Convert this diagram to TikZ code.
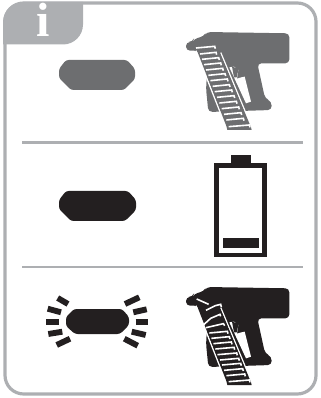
\documentclass[tikz,border=0pt]{standalone}
\usepackage{fontspec}
\setmainfont{Liberation Serif}
\definecolor{fr}{HTML}{ADAFB2}
\definecolor{gr}{HTML}{6D6E70}
\definecolor{bk}{HTML}{231F20}
\tikzset{
  pill/.style={rounded corners=2pt},
  ray/.style={line width=4.4pt,bk},
  divider/.style={line width=1.9pt,fr},
}
% #1 colour, #2 rung drawing
\newcommand{\gunshape}[2]{%
  \fill[#1,rounded corners=3pt] (48,66) -- (68,66) -- (72,56) -- (100,50) -- (110,36) -- (358,40) -- (358,130) -- (262,130) -- (285,235) -- (305,245) -- (305,270) -- (115,276) -- (108,205) -- (112,150) -- (85,92) -- (48,92) -- cycle;
  \fill[white] (178,142) -- (192,140) -- (205,150) -- (201,176) -- (214,172) -- (224,170) -- (243,245) -- (228,250) -- cycle;
  \fill[#1] (186,140) -- (206,146) -- (200,172) -- (192,172) -- cycle;
  \draw[white,line width=1.1pt] (78,92) -- (167,318);
  \draw[white,line width=1.1pt] (152,98) -- (245,322);
  \fill[#1] (74,78) -- (142,72) -- (150,98) -- (243,322) -- (245,330) -- (172,330) -- (169,318) -- (81,92) -- cycle;
  #2
}
\newcommand{\rung}[3]{% y, left x, right x
  \draw[white,line width=1.2pt,line cap=butt] (#2+6,#1+2) -- (#3,#1-3) -- (#3+2,#1+4);
}
\begin{document}
\begin{tikzpicture}[x=0.75pt,y=-0.75pt]
\useasboundingbox (0,0) rectangle (320,398);
% frame
\draw[fr,line width=2.4pt,rounded corners=14pt] (5,3) rectangle (316,394);
% tab
\fill[fr] (3,44.5) [rounded corners=15pt] -- (3,2) [sharp corners] -- (83,2) [rounded corners=15pt] -- (83,44.5) [sharp corners] -- cycle;
\node[text=white,font=\fontsize{36}{36}\selectfont\bfseries,inner sep=0pt,anchor=base] (info) at (43,36.5) {i};
% dividers
\draw[divider] (22,142.5) -- (303,142.5);
\draw[divider] (22,267) -- (303,267);
% pills
\fill[gr,pill] (59,69) -- (66,60) -- (127,60) -- (135,69) -- (135,79) -- (124,90) -- (71,90) -- (59,78) -- cycle;
\fill[bk,pill] (59,200) -- (66,191) -- (128,191) -- (136,200) -- (136,210) -- (125,221) -- (71,221) -- (59,209) -- cycle;
\fill[bk,pill] (66,317) -- (74,309) -- (122,309) -- (129,317) -- (129,325) -- (120,334) -- (75,334) -- (66,326) -- cycle;
% rays
\draw[ray] (57.7,298) -- (68,304);
\draw[ray] (47.7,308.7) -- (61,312.3);
\draw[ray] (46,322) -- (59,322);
\draw[ray] (48.3,334) -- (62.3,331.7);
\draw[ray] (56.7,345) -- (70,338.7);
\draw[ray] (125,304) -- (139.3,297.3);
\draw[ray] (133.3,312.3) -- (146.7,309.3);
\draw[ray] (135.7,322) -- (148,322);
\draw[ray] (131.7,331.7) -- (145.7,335);
\draw[ray] (124.3,338.7) -- (137.7,345.7);
% battery
\draw[bk,line width=3.4pt] (216.3,165.3) rectangle (264.7,254.8);
\fill[bk] (231,155) rectangle (251,164);
\fill[bk] (223,238) rectangle (259,248);
% gun 1
\begin{scope}[shift={(170,20)},x=0.25pt,y=-0.25pt]
\gunshape{gr}{%
  \rung{82}{72}{134}
  \rung{100}{84}{138}
  \rung{116}{90}{146}
  \rung{132}{96}{152}
  \rung{148}{102}{158}
  \rung{164}{109}{165}
  \rung{180}{115}{172}
  \rung{197}{122}{178}
  \rung{213}{128}{185}
  \rung{230}{135}{192}
  \rung{247}{142}{199}
  \rung{264}{149}{206}
  \rung{281}{156}{213}
  \rung{298}{163}{220}
  \rung{318}{170}{238}
}
\end{scope}
% gun 2
\begin{scope}[shift={(170,275)},x=0.25pt,y=-0.25pt]
\gunshape{bk}{%
  \draw[white,line width=1.2pt] (80,72) -- (116,88);
  \draw[white,line width=1.2pt] (108,106) -- (136,92) -- (152,88) -- (154,96);
  \draw[white,line width=1.2pt] (100,150) -- (122,130) -- (150,118) -- (152,124);
  \draw[white,line width=1.2pt] (108,158) -- (160,146) -- (164,152);
  \rung{172}{112}{172}
  \rung{188}{118}{178}
  \rung{204}{124}{184}
  \rung{220}{130}{192}
  \rung{237}{136}{200}
  \rung{253}{144}{206}
  \rung{268}{150}{212}
  \rung{284}{156}{218}
  \rung{300}{163}{224}
  \rung{318}{170}{238}
}
\end{scope}
\end{tikzpicture}
\end{document}
